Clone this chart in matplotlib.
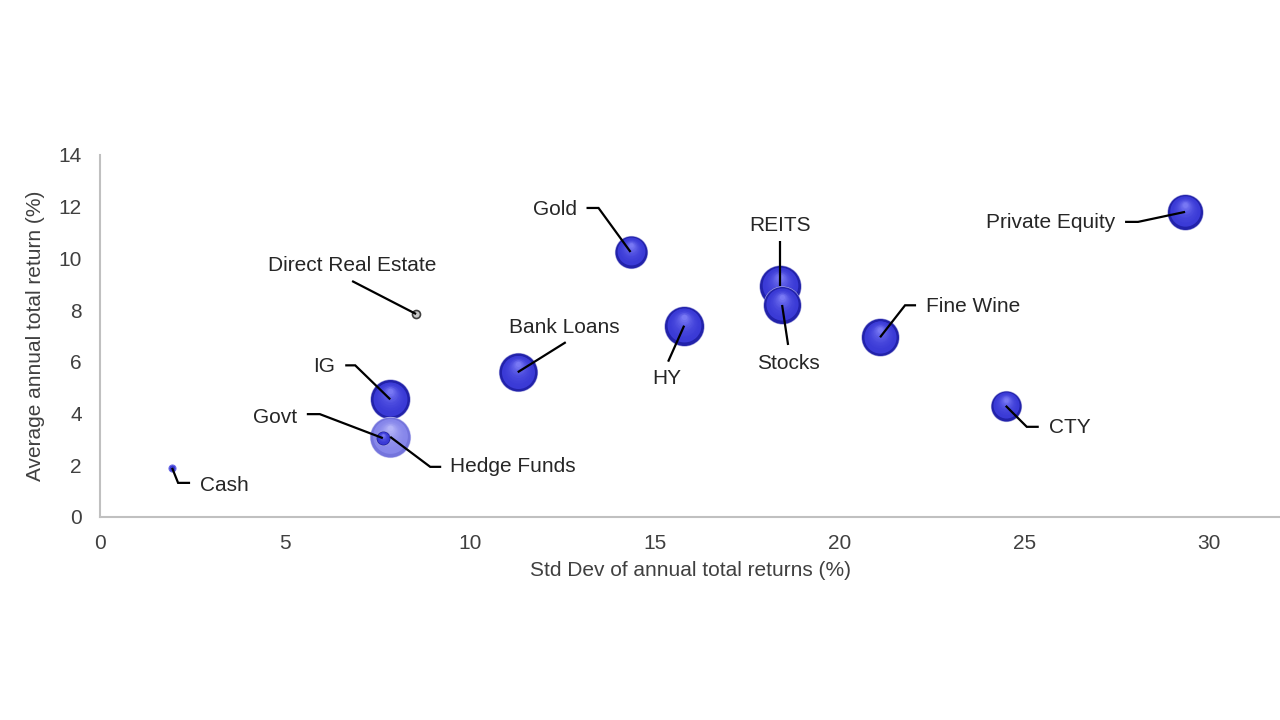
import matplotlib as mpl
mpl.use('Agg')
import matplotlib.pyplot as plt
import matplotlib.transforms as mtransforms
import numpy as np
from matplotlib.colors import to_rgb

plt.rcParams['font.family'] = ['Liberation Sans', 'DejaVu Sans']

# data
names = ['Cash', 'Direct Real Estate', 'IG', 'Hedge Funds', 'Govt', 'Bank Loans', 'Gold',
         'HY', 'REITS', 'Stocks', 'Fine Wine', 'CTY', 'Private Equity']
std_dev = [1.95, 8.55, 7.85, 7.85, 7.65, 11.3, 14.35, 15.8, 18.4, 18.45, 21.1, 24.5, 29.35]
avg_return = [1.9, 7.85, 4.55, 3.1, 3.05, 5.6, 10.25, 7.4, 8.95, 8.2, 6.95, 4.3, 11.8]
bubble = [3.5, 4.0, 19.5, 20, 7, 19, 16, 19.5, 20.5, 18.5, 18.5, 15, 17.5]

# leader paths and label positions, pixel offsets from the bubble centre (y down)
leaders = {
    'Cash': [(0, 0), (6, 15), (18, 15)],
    'Direct Real Estate': [(0, 0), (-64, -33)],
    'IG': [(0, 0), (-35, -34), (-45, -34)],
    'Govt': [(0, 0), (-63, -24), (-76, -24)],
    'Hedge Funds': [(0, 0), (40, 30), (51, 30)],
    'Bank Loans': [(0, 0), (48, -30)],
    'Gold': [(0, 0), (-32, -44), (-44, -44)],
    'HY': [(0, 0), (-16, 36)],
    'REITS': [(0, 0), (0, -45)],
    'Stocks': [(0, 0), (6, 40)],
    'Fine Wine': [(0, 0), (25, -32), (36, -32)],
    'CTY': [(0, 0), (21, 21), (33, 21)],
    'Private Equity': [(0, 0), (-47, 10), (-60, 10)],
}
label_pos = {
    'Cash': (28, 18, 'left'),
    'Direct Real Estate': (-64, -49, 'center'),
    'IG': (-55, -33, 'right'),
    'Govt': (-86, -21, 'right'),
    'Hedge Funds': (60, 30, 'left'),
    'Bank Loans': (47, -45, 'center'),
    'Gold': (-54, -42, 'right'),
    'HY': (-17, 53, 'center'),
    'REITS': (0, -60, 'center'),
    'Stocks': (6, 59, 'center'),
    'Fine Wine': (46, -31, 'left'),
    'CTY': (43, 22, 'left'),
    'Private Equity': (-70, 11, 'right'),
}

fig = plt.figure(figsize=(12.8, 7.2), dpi=100)
ax = fig.add_axes([100 / 1280, 203 / 720, 1180 / 1280, 362 / 720])
ax.set_xlim(0, 1180 / 36.97)
ax.set_ylim(0, 14)
ax.set_xticks(range(0, 31, 5))
ax.set_yticks(range(0, 15, 2))
for side in ['top', 'right']:
    ax.spines[side].set_visible(False)
for side in ['left', 'bottom']:
    ax.spines[side].set_color('#c0c0c0')
    ax.spines[side].set_linewidth(1.5)
ax.tick_params(length=0, labelsize=15, labelcolor='#404040')
ax.tick_params(axis='x', pad=12)
ax.tick_params(axis='y', pad=13)
ax.set_xlabel('Std Dev of annual total returns (%)', fontsize=15, color='#404040', labelpad=6)
ax.set_ylabel('Average annual total return (%)', fontsize=15, color='#404040', labelpad=10)


def mix(c1, c2, t):
    a, b = np.array(to_rgb(c1)), np.array(to_rgb(c2))
    return tuple(a + (b - a) * t)


def sphere(x, y, r, rim, body, light, z):
    # fake 3d ball: stacked circles, shrinking and drifting up toward the highlight
    n = 14
    ax.scatter([x], [y], s=(2 * (r + 0.6) * 0.72) ** 2, color=mix(rim, 'white', 0.6),
               lw=0, zorder=z)
    ax.scatter([x], [y], s=(2 * r * 0.72) ** 2, color=rim, lw=0, zorder=z)
    for i in range(1, n):
        t = i / (n - 1)
        rr = r * (1 - 0.85 * t) * 0.93
        dy = r * 0.42 * t * 0.72
        tr = mtransforms.offset_copy(ax.transData, fig=fig, x=0, y=dy, units='points')
        col = mix(body, light, t ** 2.2)
        ax.scatter([x], [y], s=(2 * rr * 0.72) ** 2, color=col, lw=0, zorder=z,
                   transform=tr)


for i, name in enumerate(names):
    x, y, r = std_dev[i], avg_return[i], bubble[i]
    z = 2 + i * 0.01
    if name == 'Direct Real Estate':
        ax.scatter([x], [y], s=(2 * r * 0.72) ** 2, color='#c8c8c8', edgecolor='#404040',
                   lw=1.2, zorder=z)
    elif name == 'Cash':
        ax.scatter([x], [y], s=(2 * r * 0.72) ** 2, color='#3a3ad0', edgecolor='#6a6ae8',
                   lw=0.8, zorder=z)
    elif name == 'Hedge Funds':
        sphere(x, y, r, '#7474dc', '#8686ea', '#b4b4f8', z)
    else:
        sphere(x, y, r, '#2222aa', '#3a3ad6', '#7878f4', z)

# leader lines and labels
for i, name in enumerate(names):
    cx, cy = ax.transData.transform((std_dev[i], avg_return[i]))
    pts = np.array([(cx + dx, cy - dy) for dx, dy in leaders[name]])
    data = ax.transData.inverted().transform(pts)
    ax.plot(data[:, 0], data[:, 1], color='black', lw=1.6, zorder=5,
            solid_capstyle='butt', solid_joinstyle='miter')
    tx, ty, ha = label_pos[name]
    ax.annotate(name, xy=(std_dev[i], avg_return[i]), xytext=(tx, -ty),
                textcoords='offset pixels', ha=ha, va='center', fontsize=15,
                color='#262626', zorder=6)

plt.savefig('out.png', dpi=100)
